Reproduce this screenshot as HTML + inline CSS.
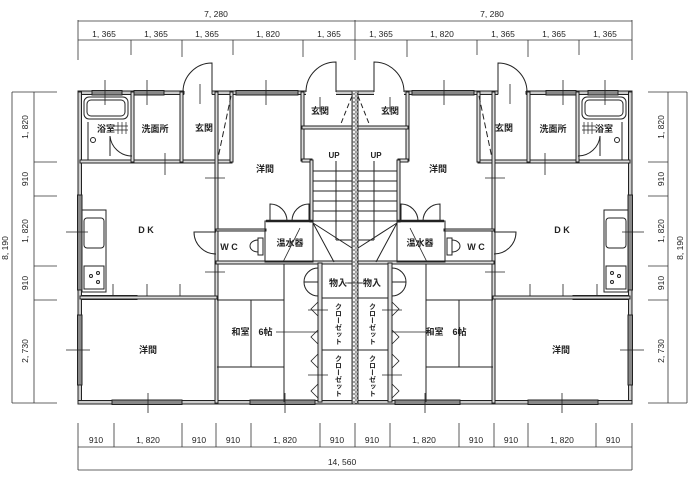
<!DOCTYPE html>
<html><head><meta charset="utf-8"><style>
html,body{margin:0;padding:0;background:#fff;width:697px;height:483px;overflow:hidden}
svg{display:block}
text{font-family:"Liberation Sans","Noto Sans CJK JP",sans-serif;fill:#222}
.d{font-size:8.5px}
.r{font-size:9px;font-weight:bold}
</style></head><body>
<svg width="697" height="483" viewBox="0 0 697 483" xmlns="http://www.w3.org/2000/svg">
<defs>
<pattern id="h" width="4" height="4" patternUnits="userSpaceOnUse"><rect width="4" height="4" fill="#fff"/><circle cx="2" cy="2" r="1.3" fill="none" stroke="#444" stroke-width="0.7"/></pattern>
<g id="L" stroke="#222" fill="none" stroke-width="1">
 <rect x="78" y="91" width="277" height="3.5" fill="#ccc"/>
 <rect x="78" y="92" width="3.5" height="311" fill="#ccc"/>
 <rect x="78" y="400.5" width="277" height="3.5" fill="#ccc"/>
 <rect x="184" y="89" width="28" height="8" fill="#fff" stroke="none"/>
 <rect x="306" y="89" width="30" height="8" fill="#fff" stroke="none"/>
 <line x1="184" y1="91" x2="184" y2="94.5"/><line x1="212" y1="91" x2="212" y2="94.5"/>
 <rect x="92" y="90.5" width="30" height="4.5" fill="#888"/>
 <rect x="134" y="90.5" width="30" height="4.5" fill="#888"/>
 <rect x="236" y="90.5" width="62" height="4.5" fill="#888"/>
 <rect x="77.5" y="195" width="4.5" height="95" fill="#888"/>
 <rect x="77.5" y="315" width="4.5" height="70" fill="#888"/>
 <rect x="112" y="400" width="70" height="4.5" fill="#888"/>
 <rect x="250" y="400" width="65" height="4.5" fill="#888"/>
 <rect x="82" y="295.5" width="55" height="4" fill="#aaa"/>
 <rect x="80" y="160" width="152" height="3" fill="#ddd"/>
 <rect x="131" y="92" width="3" height="70" fill="#ddd"/>
 <rect x="180" y="92" width="3" height="70" fill="#ddd"/>
 <rect x="215" y="92" width="3" height="311" fill="#ddd"/>
 <rect x="230" y="92" width="3" height="70" fill="#ddd"/>
 <rect x="301" y="92" width="3" height="69" fill="#ddd"/>
 <rect x="302" y="126" width="52" height="3" fill="#ddd"/>
 <rect x="302" y="159" width="10" height="3" fill="#ddd"/>
 <rect x="310" y="160" width="3" height="62" fill="#ddd"/>
 <rect x="80" y="296" width="137" height="3" fill="#ddd"/>
 <rect x="216" y="261" width="138" height="3" fill="#ddd"/>
 <rect x="216" y="229" width="50" height="2" fill="#ddd"/>
 <rect x="265" y="221" width="48" height="41" fill="none" stroke-width="1"/>
 <line x1="266" y1="221" x2="313" y2="221" stroke-width="2.5"/>
 <line x1="284" y1="264" x2="284" y2="402"/>
 <rect x="318" y="263" width="4" height="139" fill="#ddd"/>
 <line x1="322" y1="298" x2="352" y2="298"/>
 <line x1="322" y1="350" x2="352" y2="350"/>
 <rect x="352" y="91" width="6" height="313" fill="url(#h)" stroke="#333"/>
 <line x1="231" y1="96" x2="218" y2="158" stroke-dasharray="6,3"/>
 <line x1="352" y1="96" x2="340" y2="126" stroke-dasharray="5,3"/>
 <path d="M212,92 L212,63 A29,29 0 0 0 183,92"/>
 <path d="M336,92 L336,62 A30,30 0 0 0 306,92"/>
 <path d="M216,232 L194,232 A22,22 0 0 0 216,254"/>
 <path d="M270,221 L270,204 A17,17 0 0 1 287,221"/>
 <path d="M309,221 L309,204 A17,17 0 0 0 292,221"/>
 <path d="M132,156 A22,22 0 0 1 110,136 L110,156"/>
 <path d="M318,268 A14,14 0 0 0 304,282 L318,282 M318,296 A14,14 0 0 1 304,282"/>
 <path d="M318,302 L311,309 L318,316 M318,330 L311,337 L318,344 M318,354 L311,361 L318,368 M318,384 L311,391 L318,398" stroke-width="0.8"/>
 <line x1="313" y1="171" x2="352" y2="171"/><line x1="313" y1="181" x2="352" y2="181"/>
 <line x1="313" y1="191" x2="352" y2="191"/><line x1="313" y1="201" x2="352" y2="201"/>
 <line x1="313" y1="211" x2="352" y2="211"/><line x1="313" y1="221" x2="352" y2="221"/>
 <line x1="336" y1="161" x2="336" y2="240"/><line x1="336" y1="240" x2="352" y2="240"/>
 <line x1="313" y1="223" x2="352" y2="248"/><line x1="313" y1="223" x2="334" y2="262"/>
 <line x1="300" y1="228" x2="283" y2="262" stroke-width="0.8"/>
 <rect x="84" y="97" width="44" height="22" rx="5"/>
 <rect x="87" y="100" width="38" height="16" rx="4"/>
 <line x1="88" y1="122" x2="88" y2="160"/>
 <path d="M118,122 v12 M122,122 v12 M126,122 v12 M114,126 h14 M114,130 h14" stroke-width="0.7"/>
 <circle cx="93" cy="140" r="2.5"/>
 <rect x="82" y="210" width="24" height="82"/>
 <rect x="84" y="218" width="20" height="30" rx="3"/>
 <rect x="84" y="266" width="20" height="23"/>
 <circle cx="91" cy="276" r="1.5"/><circle cx="98" cy="273" r="1.5"/><circle cx="98" cy="282" r="1.5"/>
 <path d="M258,240 A8,6 0 1 0 258,252 Z"/><rect x="258" y="238" width="5" height="17"/>
 <line x1="251" y1="300" x2="251" y2="367"/>
 <line x1="217" y1="300" x2="284" y2="300"/>
 <line x1="217" y1="367" x2="284" y2="367"/>
 <line x1="276" y1="332" x2="318" y2="332" stroke-width="0.8"/>
 <line x1="345" y1="283" x2="362" y2="283" stroke-width="0.8"/>
 <path d="M105,80 v25 M147,80 v25 M200,84 v20 M266,80 v25 M320,97 v15 M165,153 v22 M205,178 h20 M66,232 h22 M205,272 h20 M66,350 h24 M148,393 v20 M285,393 v20 M180,284 v12 M113,284 v12 M147,284 v12 M308,310 h20 M308,375 h20" stroke-width="0.8"/>
</g>
</defs>
<use href="#L"/>
<use href="#L" transform="translate(710,0) scale(-1,1)"/>

<g stroke="#333" stroke-width="0.8" fill="none">
 <line x1="78" y1="21" x2="632" y2="21"/>
 <line x1="78" y1="40" x2="632" y2="40"/>
 <path d="M78,20 V60 M131,40 V55 M182,40 V57 M233,40 V55 M303,40 V57 M355,20 V60 M407,40 V57 M477,40 V55 M528,40 V57 M579,40 V55 M632,20 V60"/>
 <line x1="78" y1="447" x2="632" y2="447"/>
 <line x1="78" y1="470" x2="632" y2="470"/>
 <path d="M78,423 V470 M114,423 V447 M182,423 V447 M216,423 V447 M251,423 V447 M320,423 V447 M355,423 V447 M390,423 V447 M459,423 V447 M494,423 V447 M528,423 V447 M596,423 V447 M632,423 V470"/>
 <line x1="12" y1="92" x2="12" y2="403"/>
 <line x1="34" y1="92" x2="34" y2="403"/>
 <path d="M12,92 H57 M34,162 H57 M34,196 H57 M34,266 H57 M34,300 H57 M12,403 H57"/>
 <line x1="687" y1="92" x2="687" y2="403"/>
 <line x1="668" y1="92" x2="668" y2="403"/>
 <path d="M648,92 H687 M648,162 H668 M648,196 H668 M648,266 H668 M648,300 H668 M648,403 H687"/>
</g>
<g class="d" text-anchor="middle">
 <text x="216" y="17">7, 280</text><text x="492" y="17">7, 280</text>
 <text x="104" y="37">1, 365</text><text x="156" y="37">1, 365</text><text x="207" y="37">1, 365</text><text x="268" y="37">1, 820</text><text x="329" y="37">1, 365</text>
 <text x="381" y="37">1, 365</text><text x="442" y="37">1, 820</text><text x="503" y="37">1, 365</text><text x="554" y="37">1, 365</text><text x="605" y="37">1, 365</text>
 <text x="96" y="443">910</text><text x="148" y="443">1, 820</text><text x="199" y="443">910</text><text x="233" y="443">910</text><text x="285" y="443">1, 820</text><text x="337" y="443">910</text>
 <text x="372" y="443">910</text><text x="424" y="443">1, 820</text><text x="476" y="443">910</text><text x="511" y="443">910</text><text x="562" y="443">1, 820</text><text x="613" y="443">910</text>
 <text x="342" y="465">14, 560</text>
 <g transform="translate(28,127) rotate(-90)"><text>1, 820</text></g>
 <g transform="translate(28,179) rotate(-90)"><text>910</text></g>
 <g transform="translate(28,231) rotate(-90)"><text>1, 820</text></g>
 <g transform="translate(28,283) rotate(-90)"><text>910</text></g>
 <g transform="translate(28,351) rotate(-90)"><text>2, 730</text></g>
 <g transform="translate(8,248) rotate(-90)"><text>8, 190</text></g>
 <g transform="translate(664,127) rotate(-90)"><text>1, 820</text></g>
 <g transform="translate(664,179) rotate(-90)"><text>910</text></g>
 <g transform="translate(664,231) rotate(-90)"><text>1, 820</text></g>
 <g transform="translate(664,283) rotate(-90)"><text>910</text></g>
 <g transform="translate(664,351) rotate(-90)"><text>2, 730</text></g>
 <g transform="translate(683,248) rotate(-90)"><text>8, 190</text></g>
</g>
<g class="r" text-anchor="middle">
 <text x="106" y="132">浴室</text><text x="155" y="132">洗面所</text><text x="204" y="131">玄関</text><text x="320" y="114">玄関</text>
 <text x="265" y="172">洋間</text><text x="334" y="158" style="font-size:8px">UP</text>
 <text x="146" y="233">D K</text><text x="229" y="250">W C</text><text x="290" y="246">温水器</text>
 <text x="338" y="286">物入</text><text x="252" y="335">和室　6帖</text><text x="148" y="353">洋間</text>
 <text x="604" y="132">浴室</text><text x="553" y="132">洗面所</text><text x="504" y="131">玄関</text><text x="390" y="114">玄関</text>
 <text x="438" y="172">洋間</text><text x="376" y="158" style="font-size:8px">UP</text>
 <text x="562" y="233">D K</text><text x="476" y="250">W C</text><text x="420" y="246">温水器</text>
 <text x="372" y="286">物入</text><text x="446" y="335">和室　6帖</text><text x="561" y="353">洋間</text>
</g>
<g class="r" style="font-size:7px" text-anchor="middle">
 <text x="338" y="324" style="writing-mode:vertical-rl">クローゼット</text>
 <text x="338" y="376" style="writing-mode:vertical-rl">クローゼット</text>
 <text x="372" y="324" style="writing-mode:vertical-rl">クローゼット</text>
 <text x="372" y="376" style="writing-mode:vertical-rl">クローゼット</text>
</g>
</svg>
</body></html>
